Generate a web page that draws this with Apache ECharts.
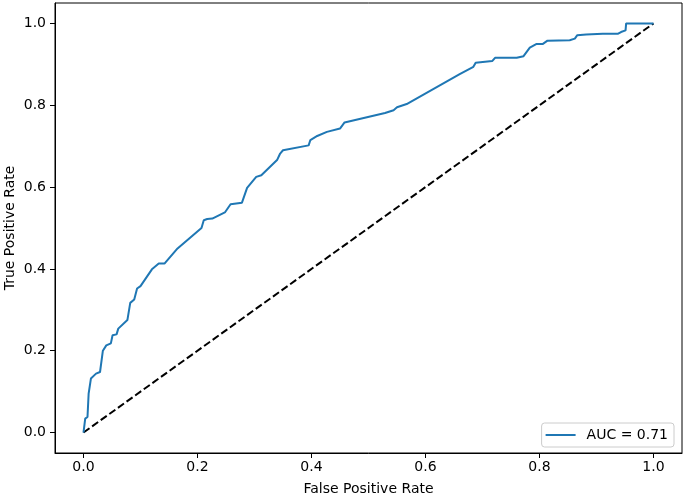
<!DOCTYPE html>
<html>
<head>
<meta charset="utf-8">
<script src="https://cdn.jsdelivr.net/npm/echarts@6/dist/echarts.min.js"></script>
<style>html,body{margin:0;padding:0;background:#fff}#c{width:685px;height:494px}</style>
</head>
<body>
<div id="c"></div>
<script>
var fpr = [0,0.003,0.007,0.009,0.013,0.022,0.029,0.034,0.040,0.048,0.051,0.058,0.061,0.077,0.082,0.089,0.094,0.100,0.120,0.132,0.142,0.165,0.207,0.211,0.217,0.226,0.248,0.258,0.278,0.287,0.303,0.312,0.340,0.345,0.350,0.395,0.398,0.410,0.427,0.450,0.458,0.529,0.544,0.550,0.567,0.660,0.684,0.688,0.717,0.722,0.760,0.762,0.772,0.783,0.795,0.806,0.814,0.853,0.862,0.866,0.882,0.911,0.938,0.943,0.951,0.952,1.0];
var tpr = [0,0.034,0.038,0.095,0.132,0.144,0.148,0.200,0.213,0.218,0.238,0.240,0.254,0.275,0.317,0.325,0.352,0.358,0.399,0.413,0.413,0.450,0.500,0.519,0.522,0.523,0.538,0.558,0.562,0.598,0.625,0.629,0.667,0.682,0.690,0.702,0.715,0.725,0.735,0.743,0.758,0.781,0.788,0.795,0.803,0.876,0.894,0.904,0.908,0.916,0.916,0.920,0.920,0.941,0.950,0.950,0.958,0.959,0.963,0.971,0.973,0.975,0.975,0.979,0.983,1.0,1.0];
var diagX = [0, 1];
var diagY = [0, 1];
var tickValues = [0, 0.2, 0.4, 0.6, 0.8, 1.0];
var seriesName = 'AUC = 0.71';

var roc = fpr.map(function(x, i){ return [x, tpr[i]]; });
var diag = diagX.map(function(x, i){ return [x, diagY[i]]; });
var font = 'DejaVu Sans';

function axisCfg(name, isY) {
  return {
    type: 'value', min: -0.05, max: 1.05,
    name: name, nameLocation: 'middle',
    nameGap: isY ? 38 : 29,
    nameMoveOverlap: false,
    nameTextStyle: {fontFamily: font, fontSize: 14, color: '#000'},
    axisLine: {show: true, onZero: false, lineStyle: {color: '#000', width: 1}},
    axisTick: {show: true, customValues: tickValues, length: 5, lineStyle: {color: '#000'}},
    axisLabel: {customValues: tickValues, fontFamily: font, fontSize: 14, color: '#000', margin: isY ? 9 : 7,
      formatter: function(v){ return v.toFixed(1); }},
    splitLine: {show: false}
  };
}

var chart = echarts.init(document.getElementById('c'));
chart.setOption({
  animation: false,
  backgroundColor: '#fff',
  grid: {left: 55, right: 3, top: 3, bottom: 41, show: true, borderColor: '#000', borderWidth: 1,
    containLabel: false, outerBoundsMode: 'none'},
  xAxis: axisCfg('False Positive Rate', false),
  yAxis: axisCfg('True Positive Rate', true),
  legend: {
    right: 11, bottom: 47,
    data: [{name: seriesName, icon: 'rect'}],
    itemWidth: 30, itemHeight: 2, itemGap: 0,
    padding: [5, 6, 5, 4],
    borderColor: '#ccc', borderWidth: 1, borderRadius: 3,
    backgroundColor: 'rgba(255,255,255,0.8)',
    textStyle: {fontFamily: font, fontSize: 14, color: '#000', padding: [0, 0, 0, 6]}
  },
  series: [
    {name: seriesName, type: 'line', data: roc, showSymbol: false, symbol: 'none',
      lineStyle: {color: '#1f77b4', width: 2}, itemStyle: {color: '#1f77b4'}, z: 3},
    {name: 'diag', type: 'line', data: diag, showSymbol: false, symbol: 'none',
      lineStyle: {color: '#000', width: 2, type: [7.4, 3.2]}, z: 2}
  ]
});
</script>
</body>
</html>
